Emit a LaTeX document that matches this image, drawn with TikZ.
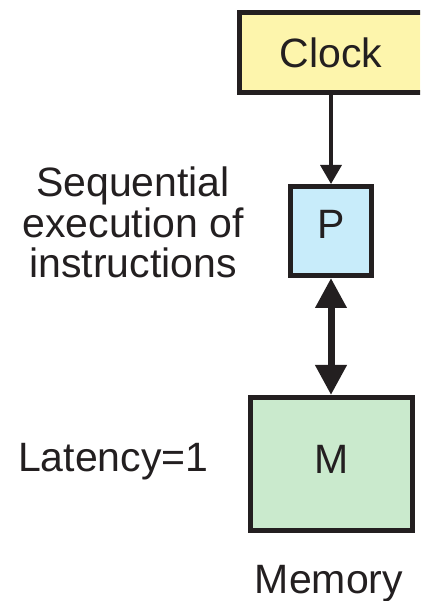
\documentclass[tikz,border=0pt]{standalone}
\usepackage{fontspec}
\setmainfont{Liberation Sans}
\usepackage{tikz}
\usetikzlibrary{positioning,arrows.meta}
\usepackage{xcolor}
\definecolor{clockyellow}{RGB}{253,245,172}
\definecolor{procblue}{RGB}{200,236,250}
\definecolor{memgreen}{RGB}{202,234,205}
\definecolor{inkdark}{RGB}{35,31,32}

\begin{document}
\begin{tikzpicture}[x=1pt, y=1pt,
    every node/.style={font=\fontsize{41}{40.5}\selectfont, text=inkdark},
    unitbox/.style={draw=inkdark, line width=5pt}]
    \useasboundingbox (0,0) rectangle (420,601);
    \clip (0,0) rectangle (420,601);
    \fill[white] (0,0) rectangle (420,601);
    % Clock (runs off the right edge)
    \node[unitbox, fill=clockyellow, minimum width=260pt, minimum height=80pt] (clock) at (369.75,548.5) {Clock\hspace*{77pt}};
    % Processor
    \node[unitbox, fill=procblue, minimum width=81pt, minimum height=89pt, text depth=14pt] (proc) at (331,370) {P};
    % Memory
    \node[unitbox, fill=memgreen, minimum width=162pt, minimum height=133pt, text depth=10pt] (mem) at (331.5,137) {M};
    % Arrows
    \draw[-{Triangle[length=19pt,width=21pt]}, line width=3.5pt, inkdark] (proc.north |- clock.south) -- (proc.north);
    \draw[{Triangle[length=30pt,width=30pt]}-{Triangle[length=30pt,width=30pt]}, line width=7pt, inkdark] (proc.south) -- (proc.south |- mem.north);
    % Labels
    \node[align=center] (seqlabel) at (133,378.5) {Sequential\\execution of\\instructions};
    \node[anchor=base west, inner sep=0pt] (latlabel) at (18,129) {Latency=1};
    \node[anchor=base, inner sep=0pt] (memlabel) at (329,8) {Memory};
\end{tikzpicture}
\end{document}
